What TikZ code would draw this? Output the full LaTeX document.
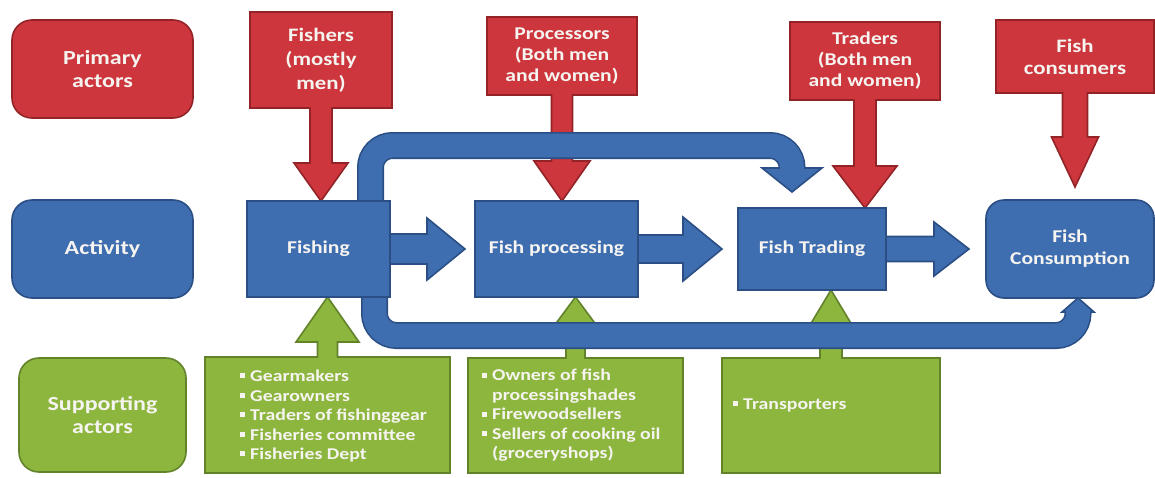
\documentclass[tikz,border=0pt]{standalone}
\usepackage{fontspec}
\setmainfont{Carlito}[FakeStretch=1.2]
\usepackage{tikz}
\usetikzlibrary{positioning,calc}

\definecolor{redfill}{HTML}{CC363C}
\definecolor{redline}{HTML}{932327}
\definecolor{bluefill}{HTML}{3E6DB0}
\definecolor{blueline}{HTML}{2B4F85}
\definecolor{greenfill}{HTML}{8DB63F}
\definecolor{greenline}{HTML}{62832A}
\definecolor{txt}{HTML}{F6F4F0}

\pgfdeclarelayer{shapes}
\pgfdeclarelayer{bands}
\pgfsetlayers{shapes,bands,main}

% square bullet
\newcommand{\sqb}{\makebox[10pt][l]{\rule[0.2em]{0.3em}{0.3em}}}

% box with arrow down: [style]{node}{tip}{shaft half}{head half}{head length}
\newcommand{\downcallout}[6][]{%
  \path[#1] (#2.north west) -- (#2.north east) -- (#2.south east)
    -- ($(#3 |- #2.south)+(#4,0)$) -- ($(#3)+(#4,-#6)$) -- ($(#3)+(#5,-#6)$)
    -- (#3) -- ($(#3)+(-#5,-#6)$) -- ($(#3)+(-#4,-#6)$)
    -- ($(#3 |- #2.south)+(-#4,0)$) -- (#2.south west) -- cycle;}

% box with arrow up
\newcommand{\upcallout}[6][]{%
  \path[#1] (#2.south west) -- (#2.south east) -- (#2.north east)
    -- ($(#3 |- #2.north)+(#4,0)$) -- ($(#3)+(#4,#6)$) -- ($(#3)+(#5,#6)$)
    -- (#3) -- ($(#3)+(-#5,#6)$) -- ($(#3)+(-#4,#6)$)
    -- ($(#3 |- #2.north)+(-#4,0)$) -- (#2.north west) -- cycle;}

% fat arrow to the right: [style]{from node}{tip}{shaft half}{head half}{head length}
\newcommand{\flowarrow}[6][]{%
  \path[#1] ($(#2.east)+(-2,-#4)$) -- ($(#3)+(-#6,-#4)$) -- ($(#3)+(-#6,-#5)$) -- (#3)
    -- ($(#3)+(-#6,#5)$) -- ($(#3)+(-#6,#4)$) -- ($(#2.east)+(-2,#4)$) -- cycle;}

\begin{document}
\begin{tikzpicture}[
    x=1pt, y=-1pt,
    node distance=82pt,
    sidebox/.style={rectangle, rounded corners=20pt, line width=1.6pt, minimum width=181pt, minimum height=98pt, align=center, text=txt, outer sep=0pt, font=\fontsize{20}{23}\selectfont\bfseries},
    actbox/.style={rectangle, fill=bluefill, draw=blueline, line width=1.6pt, align=center, text=txt, outer sep=0pt, font=\fontsize{18}{22}\selectfont\bfseries},
    redtext/.style={rectangle, align=center, text=txt, outer sep=0pt, inner sep=0pt, font=\fontsize{18}{21}\selectfont\bfseries},
    greentext/.style={rectangle, outer sep=0pt, inner sep=0pt},
    listtext/.style={align=left, text=txt, inner sep=0pt, font=\fontsize{16.5}{19.5}\selectfont\bfseries},
    redshape/.style={fill=redfill, draw=redline, line width=1.6pt},
    greenshape/.style={fill=greenfill, draw=greenline, line width=1.6pt},
    blueshape/.style={fill=bluefill, draw=blueline, line width=1.6pt},
    bandline/.style={draw=blueline, line width=27pt, rounded corners=22pt},
    bandfill/.style={draw=bluefill, line width=23.8pt, rounded corners=22pt}
]
\useasboundingbox (0,0) rectangle (1155,477);

% Row labels
\node[sidebox, fill=redfill, draw=redline] (primary) at (102.5,69) {Primary\\actors};
\node[sidebox, fill=bluefill, draw=blueline, below=of primary] (activity) {Activity};
\node[sidebox, fill=greenfill, draw=greenline, below=60pt of activity, minimum width=167pt, minimum height=114pt] (supporting) {Supporting\\actors};

% Activities
\node[actbox, minimum width=143pt, minimum height=96pt] (fishing) at (318.5,249) {Fishing};
\node[actbox, minimum width=163pt, minimum height=96pt] (processing) at (556.5,249) {Fish processing};
\node[actbox, minimum width=148pt, minimum height=82pt] (trading) at (812,249) {Fish Trading};
\node[actbox, rounded corners=18pt, minimum width=168pt, minimum height=98pt] (consumption) at (1070,249) {Fish\\Consumption};

% Primary actors
\node[redtext, minimum width=142pt, minimum height=96pt, font=\fontsize{19}{24}\selectfont\bfseries] (fishers) at (321,60) {Fishers\\(mostly\\men)};
\node[redtext, minimum width=150pt, minimum height=78pt] (processors) at (562,56) {Processors\\(Both men\\and women)};
\node[redtext, minimum width=150pt, minimum height=78pt] (traders) at (865,61) {Traders\\(Both men\\and women)};
\node[redtext, minimum width=158pt, minimum height=73pt, font=\fontsize{19}{22}\selectfont\bfseries] (consumers) at (1075,56.5) {Fish\\consumers};

% Supporting actors
\node[greentext, minimum width=245pt, minimum height=116pt] (gearsup) at (327.5,415) {};
\node[listtext, anchor=west] (gearlist) at ($(gearsup.west)+(35,1)$) {\sqb Gearmakers\\ \sqb Gearowners\\ \sqb Traders of fishinggear\\ \sqb Fisheries committee\\ \sqb Fisheries Dept};
\node[greentext, minimum width=215pt, minimum height=115pt] (procsup) at (575.5,415.5) {};
\node[listtext, anchor=west] (proclist) at ($(procsup.west)+(14,0)$) {\sqb Owners of fish\\ \hspace*{10pt}processingshades\\ \sqb Firewoodsellers\\ \sqb Sellers of cooking oil\\ \hspace*{10pt}(groceryshops)};
\node[greentext, minimum width=218pt, minimum height=115pt] (transsup) at (831,415.5) {};
\node[listtext, anchor=west] (translist) at ($(transsup.west)+(11,-10)$) {\sqb Transporters};

% Arrow tips
\coordinate (fisherstip) at (fishers.south |- fishing.north);
\coordinate (processorstip) at (processors.south |- processing.north);
\coordinate (traderstip) at (traders.south |- trading.north);
\coordinate (consumerstip) at ($(consumers.south |- consumption.north)+(0,-13)$);
\coordinate (gearstip) at (gearsup.north |- fishing.south);
\coordinate (proctip) at (procsup.north |- processing.south);
\coordinate (transtip) at (transsup.north |- trading.south);
\coordinate (flowa) at ($(processing.west)+(-10,0)$);
\coordinate (flowb) at ($(trading.west)+(-16,0)$);
\coordinate (flowc) at ($(consumption.west)+(-17,0)$);
\coordinate (topstart) at ($(fishing.north)+(52,2)$);
\coordinate (toptip) at ($(trading.north)+(-20,-16)$);
\coordinate (botstart) at ($(fishing.south)+(56,-2)$);
\coordinate (bottip) at ($(consumption.south)+(8,0)$);

\begin{pgfonlayer}{shapes}
\fill[white] (0,0) rectangle (1155,477);
\downcallout[redshape]{fishers}{fisherstip}{11}{27}{38}
\downcallout[redshape]{processors}{processorstip}{10.5}{28}{40}
\downcallout[redshape]{traders}{traderstip}{11}{32}{42}
\downcallout[redshape]{consumers}{consumerstip}{12.5}{23.5}{50}
\upcallout[greenshape]{gearsup}{gearstip}{10}{31.5}{45}
\upcallout[greenshape]{procsup}{proctip}{9.5}{20}{27}
\upcallout[greenshape]{transsup}{transtip}{11}{21}{35}
\end{pgfonlayer}

\begin{pgfonlayer}{bands}
% flow between activities
\flowarrow[blueshape]{fishing}{flowa}{15}{31}{38}
\flowarrow[blueshape]{processing}{flowb}{14}{32}{39}
\flowarrow[blueshape]{trading}{flowc}{12.5}{27}{35}

% loop over the top
\draw[bandline] (topstart) |- ($(toptip)+(0,-46.5)$) -- ($(toptip)+(0,-24)$);
\path[blueshape] ($(toptip)+(-30,-24)$) -- ($(toptip)+(30,-24)$) -- (toptip) -- cycle;
\draw[bandfill] (topstart) |- ($(toptip)+(0,-46.5)$) -- ($(toptip)+(0,-22)$);

% loop underneath
\draw[bandline] (botstart) |- ($(bottip)+(0,37.5)$) -- ($(bottip)+(0,14)$);
\path[blueshape] ($(bottip)+(-16,14)$) -- ($(bottip)+(16,14)$) -- (bottip) -- cycle;
\draw[bandfill] (botstart) |- ($(bottip)+(0,37.5)$) -- ($(bottip)+(0,12)$);
\end{pgfonlayer}

\end{tikzpicture}
\end{document}
